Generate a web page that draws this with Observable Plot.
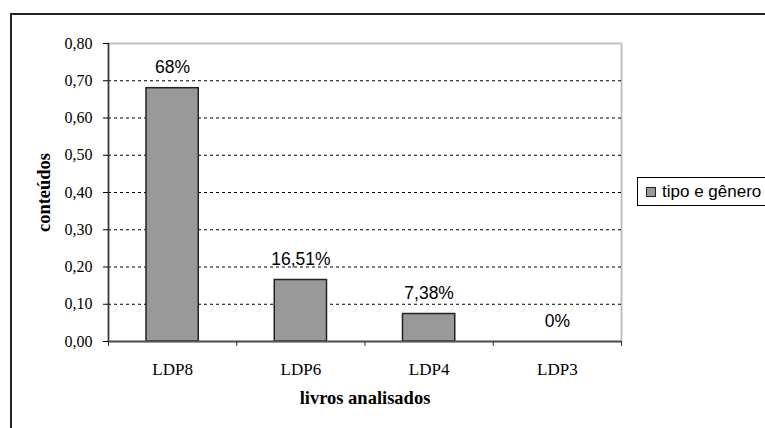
<!DOCTYPE html>
<html><head><meta charset="utf-8">
<script src="https://cdn.jsdelivr.net/npm/d3@7"></script>
<script src="https://cdn.jsdelivr.net/npm/@observablehq/plot@0.6"></script>
<style>
body{margin:0;background:#fff;}
#wrap{position:relative;width:765px;height:428px;overflow:hidden;background:#fff;}
#wrap svg{position:absolute;left:0;top:0;}
#border{position:absolute;left:10px;top:13px;width:800px;height:500px;border:2px solid #222;pointer-events:none;}
#legend{position:absolute;left:637px;top:177px;height:29px;width:140px;border:1px solid #000;background:#fff;font-family:"Liberation Sans",Arial,sans-serif;font-size:17px;display:flex;align-items:center;box-sizing:border-box;padding-left:8px;color:#000;}
#legend .sw{width:8px;height:8px;background:#999;border:1px solid #222;margin-right:6px;flex:none;}
</style>
</head><body>
<div id="wrap"><div id="border"></div></div>
<script>
const categories = ["LDP8", "LDP6", "LDP4", "LDP3"];
const values = [0.68, 0.1651, 0.0738, 0];
const valueLabels = ["68%", "16,51%", "7,38%", "0%"];
const yTicks = [0, 0.1, 0.2, 0.3, 0.4, 0.5, 0.6, 0.7, 0.8];
const seriesName = "tipo e gênero";
const xTitle = "livros analisados";
const yTitle = "conteúdos";

const data = categories.map((c, i) => ({cat: c, idx: i, value: values[i], label: valueLabels[i]}));
const serif = "'Liberation Serif','Times New Roman',serif";
const sans = "'Liberation Sans',Arial,sans-serif";

const chart = Plot.plot({
  width: 765, height: 428,
  marginLeft: 108, marginRight: 144, marginTop: 43, marginBottom: 87,
  x: {domain: [0, categories.length]},
  y: {domain: [0, 0.8]},
  style: {background: "transparent", color: "#000"},
  marks: [
    Plot.frame({stroke: "#c0c0c0", strokeWidth: 2}),
    Plot.ruleY(yTicks.filter(t => t > 0 && t < 0.8), {stroke: "#000", strokeDasharray: "3,3", strokeWidth: 1}),
    Plot.rectY(data, {x1: "idx", x2: d => d.idx + 1, y: "value", insetLeft: 38, insetRight: 38, fill: "#999999", stroke: "#222", strokeWidth: 1.5}),
    Plot.text(data, {x: d => d.idx + 0.5, y: "value", text: "label", dy: -20.5, fontSize: 17.5, fontFamily: sans, fill: "#000"}),
    Plot.ruleX([0], {stroke: "#333", strokeWidth: 1.5}),
    Plot.ruleY([0], {stroke: "#555", strokeWidth: 2}),
    Plot.axisY({ticks: yTicks, tickFormat: d => d.toFixed(2).replace(".", ","), tickSize: 5, tickPadding: 11, fontSize: 16, fontFamily: serif, label: null, stroke: "#000"}),
    Plot.axisX({ticks: d3.range(categories.length + 1), tickFormat: () => "", tickSize: 5, label: null, stroke: "#333"}),
    Plot.axisX({ticks: categories.map((c, i) => i + 0.5), tickFormat: d => categories[Math.floor(d)], tickSize: 0, tickPadding: 21, fontSize: 17, fontFamily: serif, label: null}),
    Plot.text([yTitle], {frameAnchor: "left", textAnchor: "middle", dx: -64, rotate: -90, fontWeight: "bold", fontSize: 18.5, fontFamily: serif, fill: "#000"}),
    Plot.text([xTitle], {frameAnchor: "bottom", textAnchor: "middle", dy: 62, fontWeight: "bold", fontSize: 18.5, fontFamily: serif, fill: "#000"})
  ]
});
const wrap = document.getElementById("wrap");
wrap.insertBefore(chart, wrap.firstChild);
const leg = document.createElement("div");
leg.id = "legend";
leg.innerHTML = '<span class="sw"></span><span></span>';
leg.lastChild.textContent = seriesName;
wrap.appendChild(leg);
</script>
</body></html>
